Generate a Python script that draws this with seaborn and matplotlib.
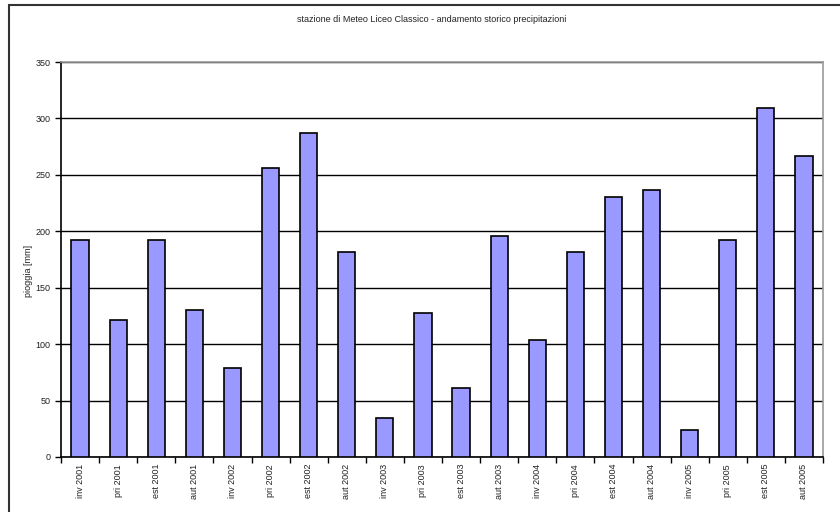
import matplotlib
matplotlib.use("Agg")
import matplotlib.pyplot as plt
import seaborn as sns
import pandas as pd
from matplotlib.patches import Rectangle

stagioni = ["inv 2001", "pri 2001", "est 2001", "aut 2001",
            "inv 2002", "pri 2002", "est 2002", "aut 2002",
            "inv 2003", "pri 2003", "est 2003", "aut 2003",
            "inv 2004", "pri 2004", "est 2004", "aut 2004",
            "inv 2005", "pri 2005", "est 2005", "aut 2005"]
pioggia = [192, 121, 192, 130, 79, 256, 287, 182, 35, 128,
           61, 196, 104, 182, 230, 237, 24, 192, 309, 267]
y_ticks = [0, 50, 100, 150, 200, 250, 300, 350]

df = pd.DataFrame({"stagione": stagioni, "pioggia": pioggia})

sns.set_style("white")
plt.rcParams["font.family"] = ["Liberation Sans", "DejaVu Sans"]

fig = plt.figure(figsize=(8.4, 5.12), dpi=100)
ax = fig.add_axes([61/840, 1-457/512, (823-61)/840, (457-62)/512])

sns.barplot(data=df, x="stagione", y="pioggia", color="#9999ff",
            saturation=1, width=0.45, edgecolor="black", linewidth=1.2, ax=ax, zorder=3)

ax.set_ylim(0, 350)
ax.set_xlim(-0.5, len(stagioni) - 0.5)
ax.set_yticks(y_ticks)
ax.yaxis.grid(True, color="black", linewidth=1.0, zorder=0)
ax.set_axisbelow(True)

# tick tra le categorie
ax.set_xticks([i - 0.5 for i in range(len(stagioni) + 1)], minor=True)
ax.set_xticks(range(len(stagioni)))
ax.set_xticklabels(stagioni, rotation=90, fontsize=6.5, color="#222222")
ax.tick_params(axis="x", which="major", length=0, pad=5)
ax.tick_params(axis="x", which="minor", length=4, width=1, direction="out", color="black", bottom=True)
ax.tick_params(axis="y", length=4, width=1, direction="out", left=True, labelsize=6.5, colors="black")
for lab in ax.get_yticklabels():
    lab.set_color("#222222")

for s in ["left", "bottom"]:
    ax.spines[s].set_color("black")
    ax.spines[s].set_linewidth(1.2)
for s in ["top", "right"]:
    ax.spines[s].set_visible(True)
    ax.spines[s].set_color("#999999")
    ax.spines[s].set_linewidth(1.2)

ax.set_xlabel("")
ax.set_ylabel("pioggia [mm]", fontsize=6.5, color="#222222")
ax.yaxis.set_label_coords(-28/762, 0.47)

fig.text(0.514, 1 - 20/512, "stazione di Meteo Liceo Classico - andamento storico precipitazioni",
         ha="center", va="center", fontsize=6.5, color="#222222")

# cornice esterna
fig.patches.append(Rectangle((9/840, -0.05), 1.0, 1 - 5/512 + 0.05, transform=fig.transFigure,
                             fill=False, edgecolor="#333333", linewidth=1.5))

fig.savefig("out.png", dpi=100)
